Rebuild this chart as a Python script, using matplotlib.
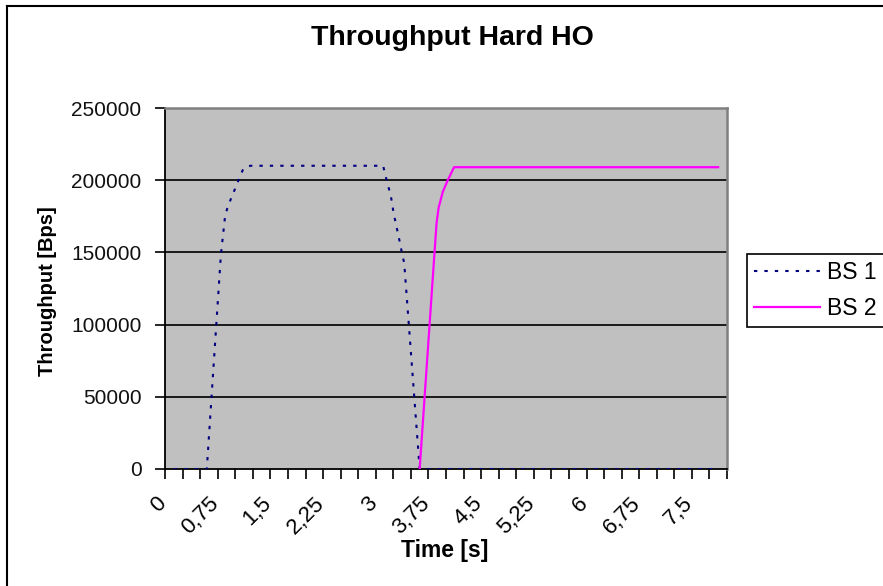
import matplotlib
matplotlib.use("Agg")
import matplotlib.pyplot as plt
from matplotlib.lines import Line2D
from matplotlib.transforms import ScaledTranslation

plt.rcParams['font.family'] = ['Liberation Sans', 'DejaVu Sans']

# ---- data ----
bs1_time = [0, 0.47, 0.67, 0.73, 0.77, 0.83, 0.93, 0.99, 1.09, 2.98, 3.02, 3.09, 3.13, 3.22, 3.25, 3.28, 3.5, 7.75]
bs1_tput = [0, 0, 148000, 175000, 182000, 189000, 201000, 208000, 210000, 210000, 202000, 189000, 177000, 156500, 149000, 142700, 0, 0]
bs2_time = [3.5, 3.74, 3.77, 3.83, 3.90, 3.99, 7.75]
bs2_tput = [0, 170000, 181000, 192000, 200000, 209000, 209000]
tick_values = [0, 0.75, 1.5, 2.25, 3, 3.75, 4.5, 5.25, 6, 6.75, 7.5]
tick_labels = ["0", "0,75", "1,5", "2,25", "3", "3,75", "4,5", "5,25", "6", "6,75", "7,5"]
y_ticks = [0, 50000, 100000, 150000, 200000, 250000]
n_categories = 32
cat_step = 0.25

W, H = 883, 586
fig = plt.figure(figsize=(W / 100, H / 100), dpi=100)
fig.patch.set_facecolor('white')

ax = fig.add_axes([165 / W, 1 - 469 / H, (727 - 165) / W, (469 - 108) / H])
ax.set_facecolor('#C0C0C0')

for v in y_ticks[1:-1]:
    ax.axhline(v, color='#1a1a1a', lw=1.4, zorder=1)

ax.plot(bs1_time, bs1_tput, color='#000080', lw=1.5, dashes=(1.6, 3.4), label='BS 1', zorder=3)
ax.plot(bs2_time, bs2_tput, color='#FF00FF', lw=1.6, label='BS 2', zorder=3)

x0 = -cat_step / 2
ax.set_xlim(x0, x0 + n_categories * cat_step)
ax.set_ylim(0, 250000)

# category boundary ticks (minor), labels at category centres (major, no tick mark)
ax.set_xticks([x0 + k * cat_step for k in range(n_categories + 1)], minor=True)
ax.set_xticks(tick_values)
ax.set_xticklabels(tick_labels, rotation=45, ha='right', va='top', rotation_mode='anchor', fontsize=16)
ax.tick_params(axis='x', which='major', length=0, pad=17)
ax.tick_params(axis='x', which='minor', length=7, width=1.2, color='black', direction='out')
shift = ScaledTranslation(-18 / 100, 0, fig.dpi_scale_trans)
for lab in ax.get_xticklabels():
    lab.set_transform(lab.get_transform() + shift)

ax.set_yticks(y_ticks)
ax.set_yticklabels([str(v) for v in y_ticks], fontsize=15, color='#111111')
ax.tick_params(axis='y', length=7, width=1.2, direction='out', pad=10)

for s in ['top', 'right']:
    ax.spines[s].set_color('#808080')
    ax.spines[s].set_linewidth(1.8)
for s in ['left', 'bottom']:
    ax.spines[s].set_color('black')
    ax.spines[s].set_linewidth(1.3)

fig.text(452 / W, 1 - 38 / H, 'Throughput Hard HO', ha='center', va='center', fontsize=20.5, fontweight='bold')
fig.text(48 / W, 1 - 291 / H, 'Throughput [Bps]', ha='center', va='center', rotation=90, fontsize=14.5, fontweight='bold')
fig.text(445 / W, 1 - 550 / H, 'Time [s]', ha='center', va='center', fontsize=16.5, fontweight='bold')

leg = fig.legend(loc='upper left', bbox_to_anchor=(747 / W, 1 - 254 / H, 170 / W, 0.0001), mode='expand',
                 fontsize=16.5, frameon=True, fancybox=False, edgecolor='black', framealpha=1,
                 handlelength=2.9, handletextpad=0.3, borderpad=0.3, labelspacing=0.58,
                 borderaxespad=0)
leg.get_frame().set_linewidth(1.2)

# outer chart-area border (cropped on right and bottom)
fig.add_artist(Line2D([7 / W, 7 / W], [-0.1, 1 - 6 / H], transform=fig.transFigure, color='black', lw=1.5))
fig.add_artist(Line2D([7 / W, 1.1], [1 - 6 / H, 1 - 6 / H], transform=fig.transFigure, color='black', lw=1.5))

fig.savefig('out.png', dpi=100)
